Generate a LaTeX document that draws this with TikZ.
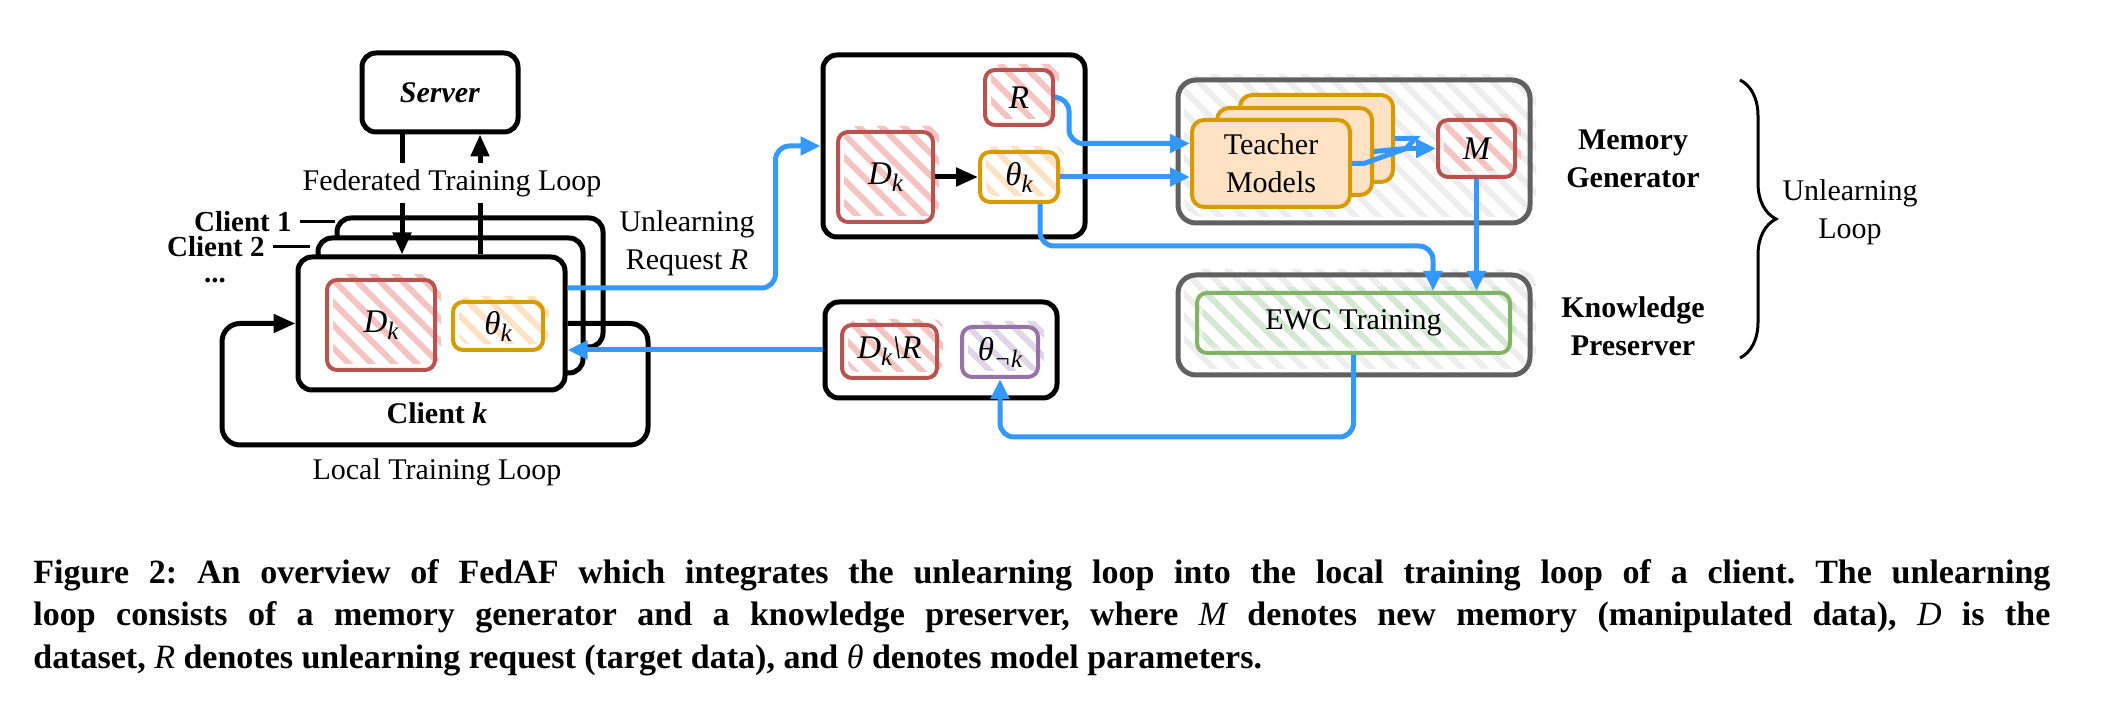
\documentclass[tikz,border=0pt]{standalone}
\usepackage{fontspec}
\setmainfont{Liberation Serif}
\usetikzlibrary{arrows.meta,patterns.meta,calc,decorations.pathreplacing}
\definecolor{rline}{HTML}{B85450}
\definecolor{rfill}{HTML}{F5C4C2}
\definecolor{oline}{HTML}{D79B00}
\definecolor{ofill}{HTML}{FFE2C4}
\definecolor{pline}{HTML}{9673A6}
\definecolor{pfill}{HTML}{E1D5E7}
\definecolor{gline}{HTML}{82B366}
\definecolor{gfill}{HTML}{D5E8D4}
\definecolor{kline}{HTML}{606060}
\definecolor{kfill}{HTML}{EDEDED}
\definecolor{bl}{HTML}{3399FF}
\newcommand\mybox[7]{\node[#6,align=center,minimum width={(#4-#2)*0.5pt},minimum height={(#5-#3)*0.5pt},inner sep=0pt] (#1) at ({(#2+#4)/2},{(#3+#5)/2}) {#7};}
\newcommand\sbk[1]{\raisebox{-3.5pt}{\fontsize{12.5}{12.5}\selectfont\itshape #1}}
\newcommand\mth[1]{{\fontsize{16.5}{19}\selectfont\itshape #1}}
\tikzset{
  blk/.style={draw=black,line width=2.5pt,rounded corners=7pt,fill=white},
  hatched/.style={preaction={transform canvas={shift={(3pt,3pt)}},pattern={Lines[angle=-45,distance=8pt,line width=3pt]},pattern color=#1}},
  rbx/.style={draw=rline,line width=2pt,rounded corners=5pt,hatched=rfill},
  obx/.style={draw=oline,line width=2pt,rounded corners=5pt,hatched=ofill},
  pbx/.style={draw=pline,line width=2pt,rounded corners=5pt,hatched=pfill},
  gbx/.style={draw=gline,line width=2pt,rounded corners=5pt,hatched=gfill},
  tbx/.style={draw=oline,line width=2pt,rounded corners=6pt,fill=ofill},
  cont/.style={draw=kline,line width=2.5pt,rounded corners=9pt,hatched=kfill},
  blueline/.style={draw=bl,line width=2.5pt,rounded corners=7pt},
  bluearrow/.style={blueline,-{Triangle[length=10pt,width=9pt]}},
  blkarrow/.style={draw=black,line width=2.5pt,-{Triangle[length=11pt,width=9pt]}},
  lbl/.style={font=\fontsize{15}{19}\selectfont\bfseries,align=center,inner sep=0pt},
  slbl/.style={font=\fontsize{14.5}{15}\selectfont\bfseries,inner sep=0pt},
  txt/.style={font=\fontsize{15}{19}\selectfont,align=center,inner sep=0pt},
}
\begin{document}
\frenchspacing
\begin{tikzpicture}[x=0.5pt,y=-0.5pt,font=\fontsize{15}{19}\selectfont]
\useasboundingbox (0,0) rectangle (2120,716);

% ---------- left: server and clients ----------
\mybox{server}{362}{53}{518}{132}{blk}{\textbf{\textit{Server}}}
\mybox{c1}{337}{218}{603}{347}{blk}{}
\mybox{c2}{318}{238}{583}{373}{blk}{}
\mybox{ck}{298}{257}{565}{390}{blk}{}
\mybox{dk1}{327}{280}{435}{370}{rbx}{\mth{D}\sbk{k}}
\mybox{tk1}{453}{302}{543}{350}{obx}{\mth{θ}\sbk{k}}

\node[slbl,anchor=east] (l1) at (292,222) {Client 1};
\node[slbl,anchor=east] (l2) at (265,247) {Client 2};
\node[slbl] (dots) at (215,281) {...};
\draw[line width=1.5pt,shorten <=4pt] (l1.east) -- (l1.east -| c1.west);
\draw[line width=1.5pt,shorten <=4pt,shorten >=3pt] (l2.east) -- (l2.east -| c2.west);

\coordinate (fd) at ($(server.south)+(-38,0)$);
\coordinate (fu) at ($(server.south)+(40,0)$);
\draw[blkarrow] (fd) -- (fd |- ck.north);
\draw[blkarrow] (fu |- ck.north) -- (fu);
\node[txt,fill=white,inner sep=3pt] (fed) at (452,183) {Federated Training Loop};

\coordinate (locR) at (648,445);
\coordinate (locL) at (222,445);
\draw[line width=2.5pt,rounded corners=9pt,-{Triangle[length=11pt,width=9pt]}] (ck.east) -| (locR) -- (locL) |- (ck.west);
\node[txt] (ltl) at (437,472) {Local Training Loop};
\node[lbl] (cklab) at (437,413) {Client \textit{k}};

% ---------- middle ----------
\mybox{ulbox}{823}{55}{1085}{237}{blk}{}
\mybox{r}{985}{70}{1053}{125}{rbx}{\mth{R}}
\mybox{dk2}{838}{132}{933}{222}{rbx}{\mth{D}\sbk{k}}
\mybox{tk2}{980}{152}{1058}{202}{obx}{\mth{θ}\sbk{k}}
\draw[blkarrow] (dk2.east) -- (tk2.west);

\mybox{rbox}{825}{302}{1057}{398}{blk}{}
\mybox{dkr}{842}{325}{937}{378}{rbx}{\mth{D}\sbk{k}\mth{\textbackslash R}}
\mybox{tnk}{962}{327}{1038}{377}{pbx}{\mth{θ}\sbk{¬k}}

\coordinate (ulin) at ($(ulbox.west)+(-45,0)$);
\draw[bluearrow] ([yshift=17.75pt]ck.east) -| (ulin) -- (ulbox.west);
\node[txt] (ureq) at (687,243) {Unlearning\\Request \textit{R}};
\draw[bluearrow] (rbox.west) -- (rbox.west -| ck.east);

% ---------- right ----------
\mybox{mg}{1178}{80}{1530}{223}{cont}{}
\mybox{kp}{1178}{275}{1530}{375}{cont}{}
\mybox{t3}{1240}{95}{1393}{182}{tbx}{}
\mybox{t2}{1217}{108}{1372}{195}{tbx}{}
\mybox{t1}{1192}{120}{1350}{207}{tbx}{Teacher\\Models}
\mybox{m}{1438}{120}{1515}{177}{rbx}{\mth{M}}
\mybox{ewc}{1197}{293}{1510}{353}{gbx}{EWC Training}

\draw[bluearrow] (r.east) -- ++(14,0) |- ($(t1.west)+(0,-20)$);
\draw[bluearrow] (tk2.east) -- (tk2.east -| t1.west);
\coordinate (mj) at ($(m.west)+(-30,0)$);
\draw[blueline,rounded corners=0pt] (t2.east) -- (mj);
\draw[blueline,rounded corners=0pt] (t3.east) -- ++(20,0) -- (mj);
\draw[bluearrow,rounded corners=0pt] (t1.east) -- ++(12,0) -- (mj) -- (m.west);
\draw[bluearrow] (m.south) -- (m.south |- ewc.north);
\draw[bluearrow] ([xshift=10.5pt]tk2.south) |- ($(ewc.north)+(79.5,-45)$) -- ($(ewc.north)+(79.5,0)$);
\draw[bluearrow] (ewc.south) |- ($(tnk.south)+(0,58)$) -- (tnk.south);

\node[lbl] (mglab) at (1633,159) {Memory\\Generator};
\node[lbl] (kplab) at (1633,326) {Knowledge\\Preserver};
\coordinate (bt) at (1740,80);
\coordinate (bb) at (1740,358);
\draw[line width=1.5pt,decorate,decoration={brace,amplitude=18pt}] (bt) -- (bb);
\node[txt] (ullab) at (1850,212) {Unlearning\\Loop};

% ---------- caption ----------
\node[anchor=base west,inner sep=0pt,font=\fontsize{17}{20}\selectfont\bfseries] (cap1) at (33,583)
  {\hbox to 1008.5pt{Figure 2: An overview of FedAF which integrates the unlearning loop into the local training loop of a client. The unlearning}};
\node[anchor=base west,inner sep=0pt,font=\fontsize{17}{20}\selectfont\bfseries] (cap2) at (33,625)
  {\hbox to 1008.5pt{loop consists of a memory generator and a knowledge preserver, where {\mdseries\itshape M} denotes new memory (manipulated data), {\mdseries\itshape D} is the}};
\node[anchor=base west,inner sep=0pt,font=\fontsize{17}{20}\selectfont\bfseries] (cap3) at (33,668)
  {dataset, {\mdseries\itshape R} denotes unlearning request (target data), and {\mdseries\itshape θ} denotes model parameters.};
\end{tikzpicture}
\end{document}
